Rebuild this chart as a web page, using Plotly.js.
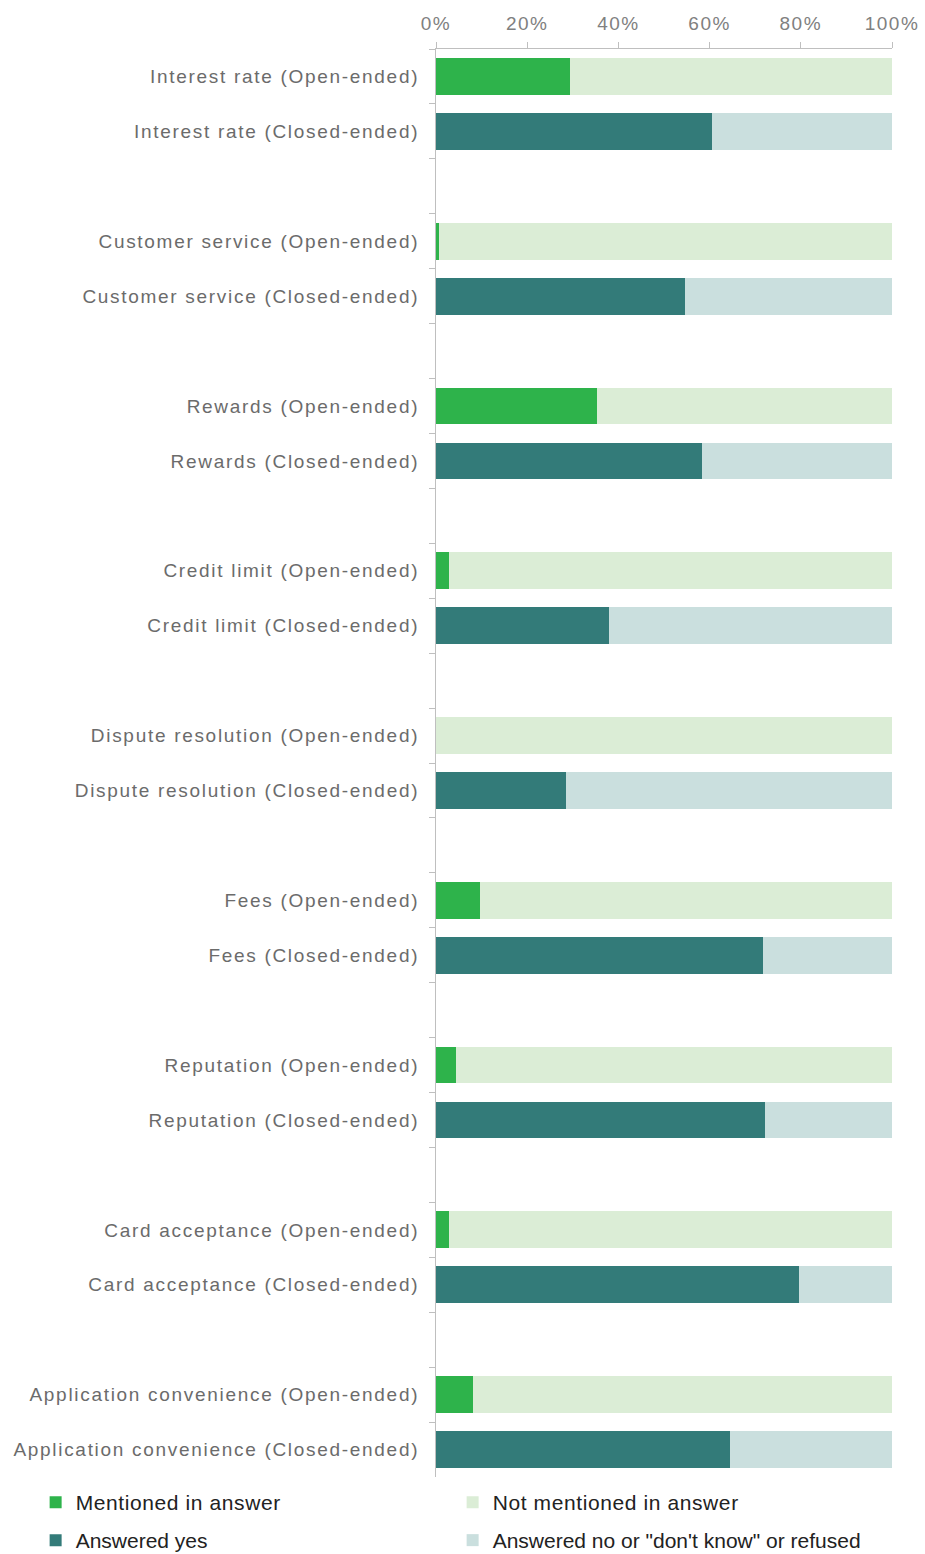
<!DOCTYPE html>
<html>
<head>
<meta charset="utf-8">
<script src="https://cdn.plot.ly/plotly-3.0.1.min.js"></script>
<style>
  html, body { margin: 0; padding: 0; background: #ffffff; }
  #chart { width: 925px; height: 1554px; }
  .ytick text { letter-spacing: 1.7px; }
  .xtick text { letter-spacing: 1.5px; }
  .legend text { letter-spacing: 0.6px; }
</style>
</head>
<body>
<div id="chart"></div>
<script>
// ---- data (percent of respondents) ----
const topics = ["Interest rate", "Customer service", "Rewards", "Credit limit",
  "Dispute resolution", "Fees", "Reputation", "Card acceptance", "Application convenience"];
const mentioned    = [29.4, 0.7, 35.2, 2.9, 0.0, 9.7, 4.4, 2.9, 8.1];
const notMentioned = [70.6, 99.3, 64.8, 97.1, 100.0, 90.3, 95.6, 97.1, 91.9];
const answeredYes  = [60.6, 54.5, 58.3, 37.9, 28.4, 71.6, 72.2, 79.5, 64.4];
const answeredNo   = [39.4, 45.5, 41.7, 62.1, 71.6, 28.4, 27.8, 20.5, 35.6];
const xTickVals  = [0, 20, 40, 60, 80, 100];
const xTickTexts = ["0%", "20%", "40%", "60%", "80%", "100%"];

// ---- category slots: open, closed, blank spacer between groups ----
const openCats = topics.map(t => t + " (Open-ended)");
const closedCats = topics.map(t => t + " (Closed-ended)");
const categories = [];
topics.forEach((t, i) => {
  categories.push(openCats[i]);
  categories.push(closedCats[i]);
  if (i < topics.length - 1) categories.push("\u200b".repeat(i + 1));
});

const font = "'Liberation Sans', Arial, Helvetica, sans-serif";
const traces = [
  { name: "Mentioned in answer", y: openCats, x: mentioned, color: "#2eb34b", legend: "legend" },
  { name: "Not mentioned in answer", y: openCats, x: notMentioned, color: "#dbedd6", legend: "legend" },
  { name: "Answered yes", y: closedCats, x: answeredYes, color: "#337b79", legend: "legend2" },
  { name: "Answered no or \"don't know\" or refused", y: closedCats, x: answeredNo, color: "#cadfde", legend: "legend2" }
].map(t => ({
  type: "bar", orientation: "h", name: t.name, x: t.x, y: t.y,
  marker: { color: t.color, line: { width: 0 } },
  legend: t.legend, hoverinfo: "x+y"
}));

const legendCommon = {
  orientation: "h", xanchor: "left", yanchor: "top",
  x: -0.878, entrywidth: 372, entrywidthmode: "pixels",
  font: { family: font, size: 21, color: "#222222" },
  bgcolor: "rgba(0,0,0,0)", borderwidth: 0, traceorder: "normal"
};

const layout = {
  width: 925, height: 1554,
  margin: { l: 436, r: 33, t: 49, b: 77, pad: 0, autoexpand: false },
  paper_bgcolor: "#ffffff", plot_bgcolor: "#ffffff",
  barmode: "stack", bargap: 0.33,
  font: { family: font, color: "#6b6b6b" },
  xaxis: {
    side: "top", range: [0, 100], tickvals: xTickVals, ticktext: xTickTexts,
    showgrid: false, zeroline: false, showline: true, linecolor: "#bfbfbf", linewidth: 1,
    ticks: "outside", ticklen: 6, tickcolor: "#bfbfbf",
    tickfont: { family: font, size: 19, color: "#808080" }, ticklabelstandoff: 4
  },
  yaxis: {
    type: "category", categoryorder: "array", categoryarray: categories,
    range: [categories.length - 0.5, -0.5],
    showgrid: false, zeroline: false, showline: true, linecolor: "#bfbfbf", linewidth: 1,
    ticks: "outside", tickson: "boundaries", ticklen: 6, tickcolor: "#bfbfbf",
    tickfont: { family: font, size: 19, color: "#6b6b6b" }, ticklabelstandoff: 12
  },
  showlegend: true,
  legend: Object.assign({}, legendCommon, { y: -0.0035 }),
  legend2: Object.assign({}, legendCommon, { y: -0.0301 })
};

Plotly.newPlot("chart", traces, layout, { displayModeBar: false, staticPlot: true });
</script>
</body>
</html>
